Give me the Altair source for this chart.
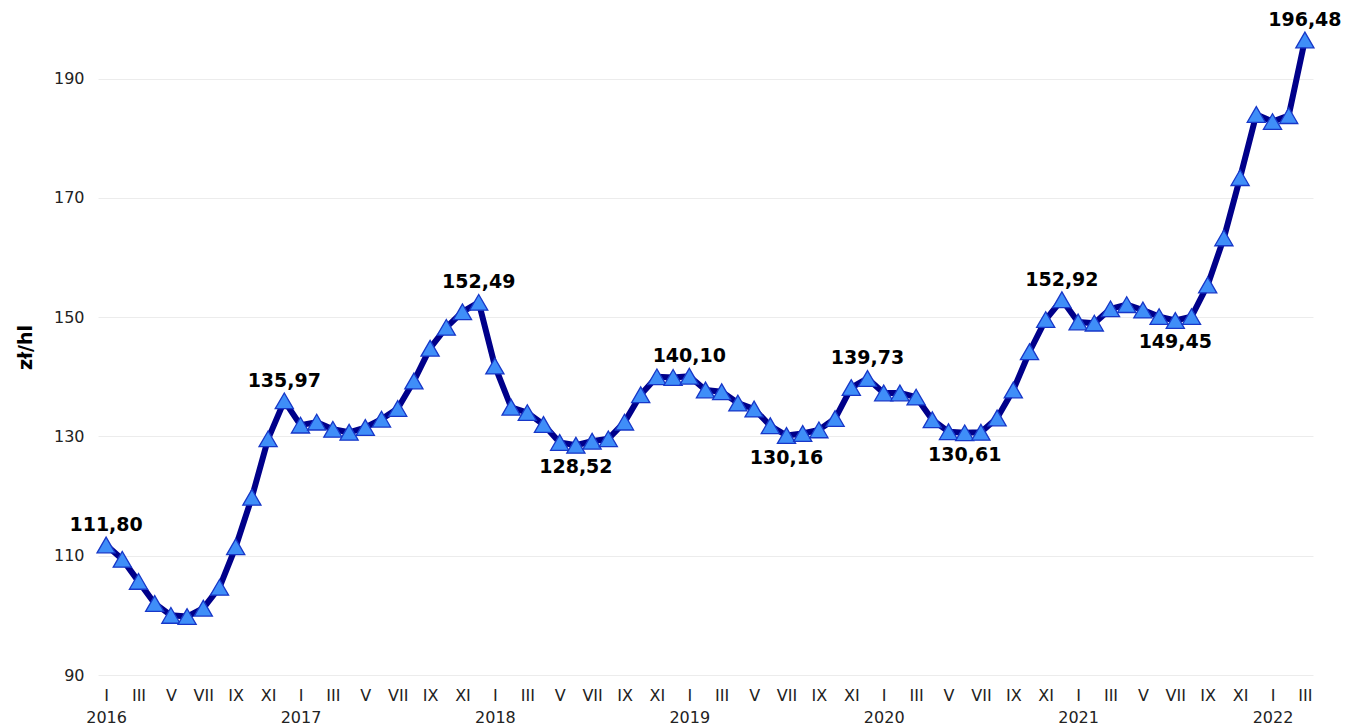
import altair as alt
import pandas as pd

# monthly values Jan 2016 .. Mar 2022 (zł/hl)
values = [
    111.80, 109.4, 105.7, 102.0, 100.0, 99.8, 101.2, 104.7, 111.5, 119.8, 129.6, 135.97,
    131.9, 132.4, 131.2, 130.7, 131.5, 132.9, 134.7, 139.3, 144.8, 148.3, 150.9, 152.49,
    141.8, 134.9, 134.0, 132.0, 129.0, 128.52, 129.2, 129.6, 132.4, 137.0, 140.0, 139.9,
    140.10, 137.8, 137.5, 135.6, 134.6, 131.8, 130.16, 130.5, 131.1, 133.0, 138.2, 139.73,
    137.3, 137.3, 136.6, 132.8, 130.8, 130.61, 130.7, 133.1, 137.8, 144.2, 149.6, 152.92,
    149.2, 149.0, 151.4, 152.1, 151.2, 150.1, 149.45, 150.1, 155.4, 163.3, 173.4, 184.0,
    182.8, 183.8, 196.48,
]
roman = ["I", "II", "III", "IV", "V", "VI", "VII", "VIII", "IX", "X", "XI", "XII"]
years = ["2016", "2017", "2018", "2019", "2020", "2021", "2022"]
y_ticks = [90, 110, 130, 150, 170, 190]

ann_idx = [0, 11, 23, 29, 36, 42, 47, 53, 59, 66, 74]
ann_pos = ["above", "above", "above", "below", "above", "below", "above", "below", "above", "below", "above"]

df = pd.DataFrame({"i": list(range(len(values))), "v": values})
ann = pd.DataFrame({
    "i": ann_idx,
    "v": [values[k] for k in ann_idx],
    "pos": ann_pos,
    "txt": [f"{values[k]:.2f}".replace(".", ",") for k in ann_idx],
})

roman_js = "[" + ",".join(f"'{r}'" for r in roman) + "]"
years_js = "[" + ",".join(f"'{y}'" for y in years) + "]"
label_expr = (
    f"datum.value % 12 == 0 ? [{roman_js}[datum.value % 12], {years_js}[floor(datum.value / 12)]]"
    f" : {roman_js}[datum.value % 12]"
)

FONT = "DejaVu Sans"

x_enc = alt.X(
    "i:Q",
    scale=alt.Scale(domain=[-0.5, len(values) - 0.5], nice=False, zero=False),
    axis=alt.Axis(
        values=list(range(0, len(values), 2)),
        labelExpr=label_expr,
        title=None,
        grid=False,
        domain=False,
        ticks=False,
        labelPadding=12,
        labelLineHeight=22,
        labelOverlap=False,
        labelBound=False,
        labelFlush=False,
    ),
)
y_enc = alt.Y(
    "v:Q",
    scale=alt.Scale(domain=[90, 200], nice=False, zero=False),
    axis=alt.Axis(
        values=y_ticks,
        title="zł/hl",
        titleFont=FONT,
        titleFontSize=19,
        titleFontWeight="bold",
        titleColor="#000000",
        titlePadding=18,
        labelPadding=14,
        grid=True,
        gridColor="#ececec",
        gridWidth=1,
        domain=False,
        ticks=False,
    ),
)

base = alt.Chart(df)
line = base.mark_line(color="#00008a", strokeWidth=6, strokeJoin="round", strokeCap="round").encode(x=x_enc, y=y_enc)
pts = base.mark_point(
    shape="triangle-up", size=330, filled=True, fill="#3f8ef8", stroke="#1737c8", strokeWidth=1.3, opacity=1
).encode(x=x_enc, y=y_enc)

above = alt.Chart(ann).transform_filter("datum.pos == 'above'").mark_text(
    font=FONT, fontSize=19, fontWeight="bold", color="#000000", dy=-20, baseline="middle", align="center"
).encode(x=x_enc, y=y_enc, text="txt:N")
below = alt.Chart(ann).transform_filter("datum.pos == 'below'").mark_text(
    font=FONT, fontSize=19, fontWeight="bold", color="#000000", dy=22, baseline="middle", align="center"
).encode(x=x_enc, y=y_enc, text="txt:N")

chart = (
    alt.layer(line, pts, above, below)
    .properties(width=1215, height=656, padding={"left": 8, "top": 2, "right": 5, "bottom": 0}, background="white")
    .configure_view(stroke=None)
    .configure_axis(labelFont=FONT, labelFontSize=16, labelColor="#222222", labelOverlap=False)
    .configure_axisX(labelOverlap=False, labelFontSize=16, labelLineHeight=22)
)

chart.save("out.html", embed_options={"renderer": "svg", "actions": False})
